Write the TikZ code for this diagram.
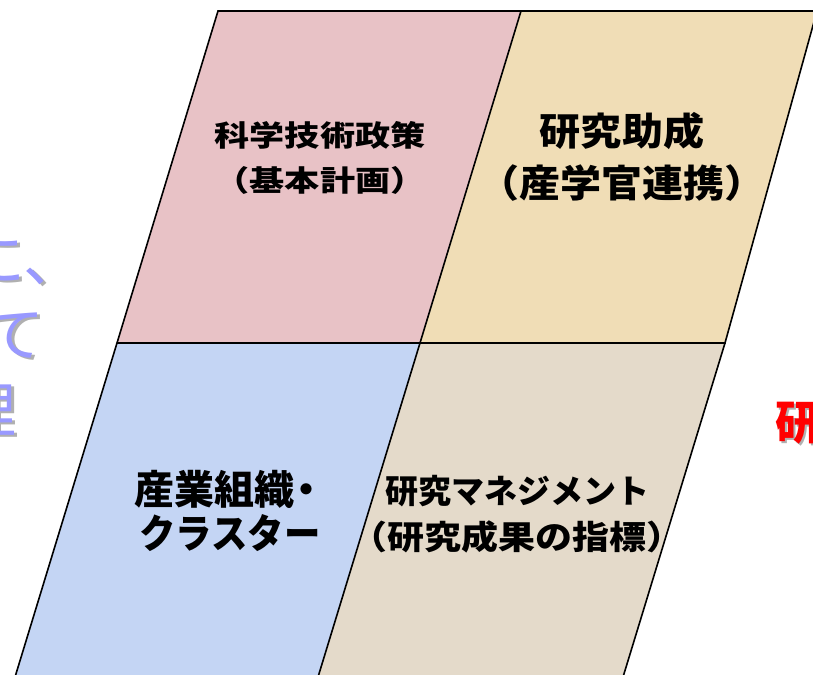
\documentclass[tikz,border=0pt]{standalone}
\usepackage{fontspec}
\newfontfamily\jp{Noto Sans CJK JP}
\definecolor{pinkbg}{HTML}{E8C2C6}
\definecolor{tanbg}{HTML}{F0DDB6}
\definecolor{bluebg}{HTML}{C4D5F4}
\definecolor{beigebg}{HTML}{E4DACA}
\definecolor{lavtext}{HTML}{9999FF}
\definecolor{shadowgray}{HTML}{B0B0B0}
\tikzset{
  panel/.style={draw=black, line width=1.6pt, line join=miter},
  label/.style={font=\jp\bfseries, text=black, align=center, inner sep=0pt},
  sidetext/.style={font=\jp\fontsize{60}{60}\selectfont, inner sep=0pt, anchor=base east},
}
\begin{document}
\begin{tikzpicture}[x=1pt,y=-1pt]
\useasboundingbox (0,0) rectangle (813,674);
\clip (0,0) rectangle (813,674);
% corner coordinates
\coordinate (p1) at (218,11);
\coordinate (p2) at (521,11);
\coordinate (t2) at (817,11);
\coordinate (p4) at (117,343);
\coordinate (p3) at (420,343);
\coordinate (t3) at (725,343);
\coordinate (b1) at (8,700);
\coordinate (b2) at (311,700);
\coordinate (b3) at (616,700);
% fills
\fill[pinkbg] (p1) -- (p2) -- (p3) -- (p4) -- cycle;
\fill[tanbg] (p2) -- (t2) -- (t3) -- (p3) -- cycle;
\fill[bluebg] (p4) -- (p3) -- (b2) -- (b1) -- cycle;
\fill[beigebg] (p3) -- (t3) -- (b3) -- (b2) -- cycle;
% borders
\draw[panel] (p1) -- (p2) -- (p3) -- (p4) -- cycle;
\draw[panel] (p2) -- (t2) -- (t3) -- (p3);
\draw[panel] (p4) -- (b1);
\draw[panel] (p3) -- (b2);
\draw[panel] (t3) -- (b3);
% labels
\node[label, font=\jp\bfseries\fontsize{29}{45}\selectfont] (pinktext) at (320,158)
  {\scalebox{1.21}[1]{科学技術政策}\\\scalebox{1.21}[1]{（基本計画）}};
\node[label, font=\jp\bfseries\fontsize{38}{52}\selectfont] (tantext) at (622,157)
  {\scalebox{1.08}[1]{研究助成}\\\scalebox{1.08}[1]{（産学官連携）}};
\node[label, font=\jp\bfseries\fontsize{40}{44}\selectfont] (bluetext) at (230,511)
  {産業組織\kern-0.2em・\\\scalebox{0.91}[1]{クラスター}};
\node[label, font=\jp\bfseries\fontsize{33}{46}\selectfont] (beigetext) at (517,514)
  {研究マネジメント\\\scalebox{1.12}[1]{（研究成果の指標）}};
% partial side texts (left)
\node[sidetext, text=shadowgray] (s1s) at (86.5,283.5) {に、};
\node[sidetext, text=lavtext] (s1) at (84,281) {に、};
\node[sidetext, text=shadowgray] (s2s) at (47.5,358.5) {て};
\node[sidetext, text=lavtext] (s2) at (45,356) {て};
\node[sidetext, text=shadowgray] (s3s) at (19.5,434.5) {理};
\node[sidetext, text=lavtext] (s3) at (17,432) {理};
% partial red text (right)
\node[font=\jp\bfseries\fontsize{46}{46}\selectfont, inner sep=0pt, anchor=base west, text=shadowgray] (rs) at (777,441) {研};
\node[font=\jp\bfseries\fontsize{46}{46}\selectfont, inner sep=0pt, anchor=base west, text=red] (r) at (775,439) {研};
\end{tikzpicture}
\end{document}
